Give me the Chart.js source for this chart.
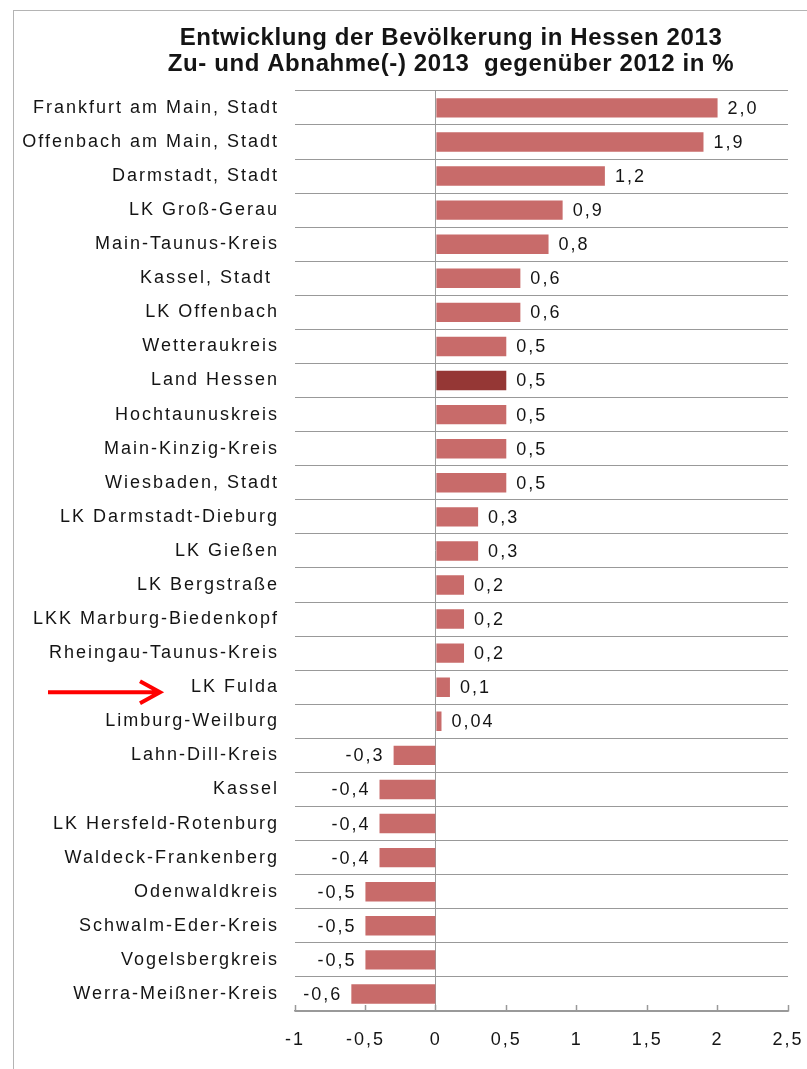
<!DOCTYPE html>
<html>
<head>
<meta charset="utf-8">
<script src="https://cdn.jsdelivr.net/npm/chart.js@4.4.1/dist/chart.umd.min.js"></script>
<style>
  html, body { margin: 0; padding: 0; background: #fff; overflow: hidden; width: 807px; height: 1069px; }
  #frame { position: absolute; left: 13px; top: 10px; width: 900px; height: 1100px; border: 1px solid #b4b4b4; }
  #wrap { position: absolute; left: 0; top: 0; }
</style>
</head>
<body>
<div id="frame"></div>
<div id="wrap"><canvas id="chart" width="902" height="1069"></canvas></div>
<script>
// Bevölkerungsentwicklung Hessen 2013 gegenüber 2012 in %
const regions = [
  'Frankfurt am Main, Stadt', 'Offenbach am Main, Stadt', 'Darmstadt, Stadt', 'LK Groß-Gerau',
  'Main-Taunus-Kreis', 'Kassel, Stadt ', 'LK Offenbach', 'Wetteraukreis', 'Land Hessen',
  'Hochtaunuskreis', 'Main-Kinzig-Kreis', 'Wiesbaden, Stadt', 'LK Darmstadt-Dieburg', 'LK Gießen',
  'LK Bergstraße', 'LKK Marburg-Biedenkopf', 'Rheingau-Taunus-Kreis', 'LK Fulda', 'Limburg-Weilburg',
  'Lahn-Dill-Kreis', 'Kassel', 'LK Hersfeld-Rotenburg', 'Waldeck-Frankenberg', 'Odenwaldkreis',
  'Schwalm-Eder-Kreis', 'Vogelsbergkreis', 'Werra-Meißner-Kreis'
];
const changes = [
  2.0, 1.9, 1.2, 0.9,
  0.8, 0.6, 0.6, 0.5, 0.5,
  0.5, 0.5, 0.5, 0.3, 0.3,
  0.2, 0.2, 0.2, 0.1, 0.04,
  -0.3, -0.4, -0.4, -0.4, -0.5,
  -0.5, -0.5, -0.6
];
const xTicks = [-1, -0.5, 0, 0.5, 1, 1.5, 2, 2.5];
const titleLines = [
  'Entwicklung der Bevölkerung in Hessen 2013',
  'Zu- und Abnahme(-) 2013  gegenüber 2012 in %'
];
const highlight = 'Land Hessen';
const arrowTarget = 'LK Fulda';

const barColor = '#c86b6a';
const highlightColor = '#953735';
const gridColor = '#999999';
const textColor = '#141414';
const labelFont = '"Liberation Sans", Arial, sans-serif';

function fmt(v) {
  const digits = (v !== 0 && Math.abs(v) < 0.1) ? 2 : 1;
  return v.toFixed(digits).replace('.', ',');
}

const valueLabels = {
  id: 'valueLabels',
  beforeDraw(chart) {
    // title is drawn before the bars, with a slight spacing
    chart.ctx.letterSpacing = '0.6px';
  },
  afterDatasetsDraw(chart) {
    const ctx = chart.ctx;
    const meta = chart.getDatasetMeta(0);
    ctx.save();
    ctx.font = '18px ' + labelFont;
    ctx.fillStyle = textColor;
    ctx.textBaseline = 'middle';
    ctx.letterSpacing = '2px';
    meta.data.forEach((bar, i) => {
      const v = changes[i];
      if (v >= 0) {
        ctx.textAlign = 'left';
        ctx.fillText(fmt(v), bar.x + 10, bar.y + 1);
      } else {
        ctx.textAlign = 'right';
        ctx.fillText(fmt(v), bar.x - 9, bar.y + 1);
      }
    });
    ctx.restore();
    // tick labels are drawn after the bars (ticks.z = 1) and use the same spacing
    ctx.letterSpacing = '2px';
  },
  afterDraw(chart) {
    const ctx = chart.ctx;
    const y = chart.scales.y.getPixelForValue(regions.indexOf(arrowTarget)) + 5;
    ctx.save();
    ctx.strokeStyle = '#ff0000';
    ctx.lineWidth = 4;
    ctx.beginPath();
    ctx.moveTo(48, y);
    ctx.lineTo(158, y);
    ctx.moveTo(140, y - 11);
    ctx.lineTo(160, y);
    ctx.lineTo(140, y + 11);
    ctx.stroke();
    ctx.restore();
  }
};

const ctx = document.getElementById('chart').getContext('2d');
const chart = new Chart(ctx, {
  type: 'bar',
  data: {
    labels: regions,
    datasets: [{
      data: changes,
      backgroundColor: regions.map(r => r === highlight ? highlightColor : barColor),
      borderWidth: 0,
      categoryPercentage: 1,
      barPercentage: 0.57
    }]
  },
  options: {
    indexAxis: 'y',
    responsive: false,
    animation: false,
    layout: { padding: { left: 0, right: 0, top: 0, bottom: 18 } },
    plugins: {
      legend: { display: false },
      tooltip: { enabled: false },
      title: {
        display: true,
        text: titleLines,
        color: textColor,
        font: { family: '"Liberation Sans Narrow", "Liberation Sans", Arial, sans-serif', size: 24, weight: 'bold', lineHeight: 1.08 },
        padding: { top: 25, bottom: 14 }
      }
    },
    scales: {
      x: {
        min: -1,
        max: 2.5,
        afterBuildTicks(scale) {
          scale.ticks = xTicks.map(v => ({ value: v }));
        },
        afterFit(scale) { scale.height = 40; },
        grid: {
          color: c => (c.tick && c.tick.value === 0) ? gridColor : 'transparent',
          tickColor: gridColor,
          tickLength: -6,
          tickWidth: 1.5,
          drawTicks: true
        },
        border: { display: true, color: gridColor, width: 1.5 },
        ticks: {
          z: 1,
          padding: 24,
          color: textColor,
          font: { family: labelFont, size: 18 },
          callback: v => String(v).replace('.', ',')
        }
      },
      y: {
        afterFit(scale) { scale.width = 295; },
        grid: { color: gridColor, drawTicks: false, offset: true },
        border: { display: false },
        ticks: {
          z: 1,
          padding: 16,
          autoSkip: false,
          color: textColor,
          font: { family: labelFont, size: 18 }
        }
      },
      spacer: {
        type: 'linear',
        position: 'right',
        afterFit(scale) { scale.width = 114; },
        grid: { display: false },
        ticks: { display: false },
        border: { display: false }
      }
    }
  },
  plugins: [valueLabels]
});
</script>
</body>
</html>
